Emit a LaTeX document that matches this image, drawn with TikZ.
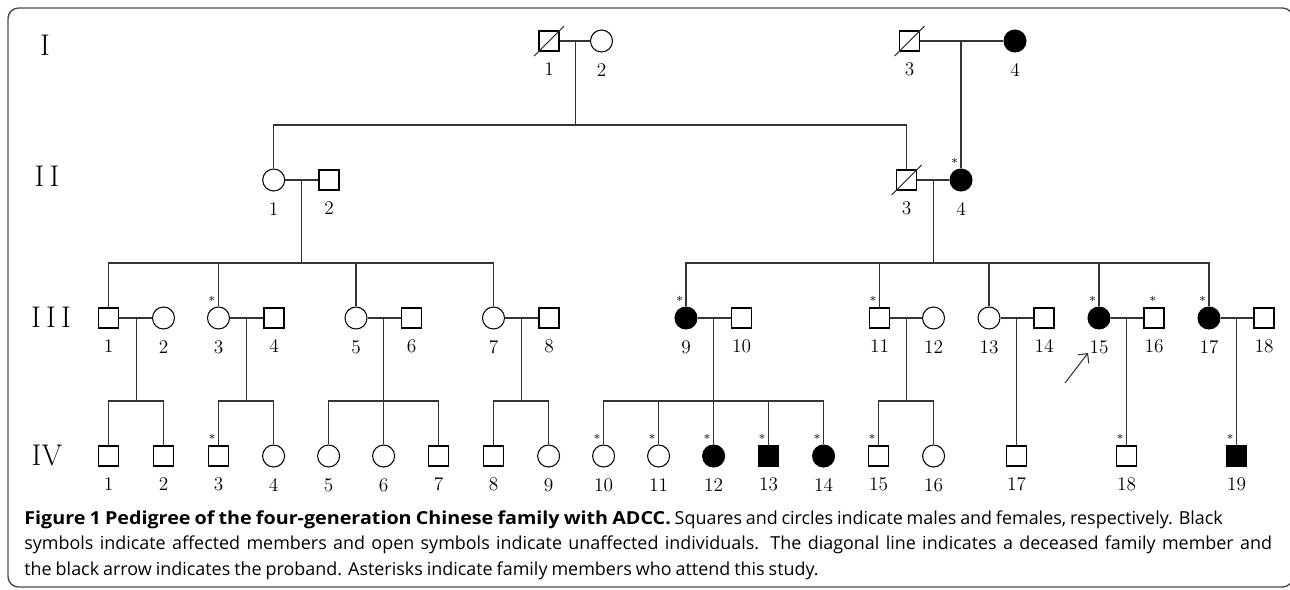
\documentclass[tikz,border=0pt]{standalone}
\usepackage{fontspec}
\newfontfamily\capfont{Open Sans}[BoldFeatures={FakeStretch=1.1}]
\usepackage{tikz}
\usetikzlibrary{calc}
\usetikzlibrary{arrows.meta}
\tikzstyle{male} = [draw, rectangle, minimum size=4mm, inner sep=0, line width=0.6pt]
\tikzstyle{female} = [draw, circle, minimum size=4.4mm, inner sep=0, line width=0.6pt]
\tikzstyle{affected} = [fill=black]
\tikzstyle{num} = [font=\fontsize{11}{11}\selectfont, inner sep=0, label distance=2.1mm]
\tikzstyle{asterisk} = [font=\fontsize{7}{7}\selectfont, inner sep=0, xshift=-3.7pt, yshift=10pt]
\tikzstyle{attend} = [label={[asterisk]center:*}]
\tikzstyle{gen} = [font=\fontsize{17}{17}\selectfont, inner sep=0]
\tikzstyle{link} = [line width=0.6pt, black!80]

\begin{document}
\begin{tikzpicture}[x=0.2mm, y=-0.2mm]
    \clip (0,0) rectangle (1290,589);
    \useasboundingbox (0,0) rectangle (1290,589);
    \draw[rounded corners=6pt, line width=0.8pt, black!70] (8,8) rectangle (1293,587);

    \node[gen] (gen_I) at (45,45) {I};
    \node[gen] (gen_II) at (47,176) {I\kern3pt I};
    \node[gen] (gen_III) at (51,317) {I\kern3pt I\kern3pt I};
    \node[gen] (gen_IV) at (47,456) {IV};

    \coordinate (sib_II) at (0,125);
    \coordinate (sib_III) at (0,263);
    \coordinate (sib_IV) at (0,401);

    \node[male, label={[num]below:1}] (I_1) at (549,41) {};
    \node[female, label={[num]below:2}] (I_2) at (601.5,41) {};
    \node[male, label={[num]below:3}] (I_3) at (909.5,41) {};
    \node[female, affected, label={[num]below:4}] (I_4) at (1015,41) {};

    \node[female, label={[num]below:1}] (II_1) at (273.7,180) {};
    \node[male, label={[num]below:2}] (II_2) at (329,180) {};
    \node[male, label={[num]below:3}] (II_3) at (906.7,180) {};
    \node[female, affected, attend, label={[num]below:4}] (II_4) at (961,180) {};

    \node[male, label={[num]below:1}] (III_1) at (108.6,318) {};
    \node[female, label={[num]below:2}] (III_2) at (163.5,318) {};
    \node[female, attend, label={[num]below:3}] (III_3) at (218.5,318) {};
    \node[male, label={[num]below:4}] (III_4) at (274,318) {};
    \node[female, label={[num]below:5}] (III_5) at (356,318) {};
    \node[male, label={[num]below:6}] (III_6) at (411.5,318) {};
    \node[female, label={[num]below:7}] (III_7) at (493.5,318) {};
    \node[male, label={[num]below:8}] (III_8) at (549,318) {};
    \node[female, affected, attend, label={[num]below:9}] (III_9) at (686,318) {};
    \node[male, label={[num]below:10}] (III_10) at (741.5,318) {};
    \node[male, attend, label={[num]below:11}] (III_11) at (879.5,318) {};
    \node[female, label={[num]below:12}] (III_12) at (933.5,318) {};
    \node[female, label={[num]below:13}] (III_13) at (989,318) {};
    \node[male, label={[num]below:14}] (III_14) at (1044,318) {};
    \node[female, affected, attend, label={[num]below:15}] (III_15) at (1099,318) {};
    \node[male, label={[asterisk, xshift=3pt]center:*}, label={[num]below:16}] (III_16) at (1154,318) {};
    \node[female, affected, attend, label={[num]below:17}] (III_17) at (1209,318) {};
    \node[male, label={[num]below:18}] (III_18) at (1264,318) {};

    \node[male, label={[num]below:1}] (IV_1) at (108.6,456) {};
    \node[male, label={[num]below:2}] (IV_2) at (163.6,456) {};
    \node[male, attend, label={[num]below:3}] (IV_3) at (218.6,456) {};
    \node[female, label={[num]below:4}] (IV_4) at (273.6,456) {};
    \node[female, label={[num]below:5}] (IV_5) at (328.6,456) {};
    \node[female, label={[num]below:6}] (IV_6) at (383.6,456) {};
    \node[male, label={[num]below:7}] (IV_7) at (438.6,456) {};
    \node[male, label={[num]below:8}] (IV_8) at (493.6,456) {};
    \node[female, label={[num]below:9}] (IV_9) at (548.6,456) {};
    \node[female, attend, label={[num]below:10}] (IV_10) at (603.6,456) {};
    \node[female, attend, label={[num]below:11}] (IV_11) at (658.6,456) {};
    \node[female, affected, attend, label={[num]below:12}] (IV_12) at (713.6,456) {};
    \node[male, affected, attend, label={[num]below:13}] (IV_13) at (768.6,456) {};
    \node[female, affected, attend, label={[num]below:14}] (IV_14) at (823.6,456) {};
    \node[male, attend, label={[num]below:15}] (IV_15) at (878.6,456) {};
    \node[female, label={[num]below:16}] (IV_16) at (933.6,456) {};
    \node[male, label={[num]below:17}] (IV_17) at (1016.5,456) {};
    \node[male, attend, label={[num]below:18}] (IV_18) at (1126.5,456) {};
    \node[male, affected, attend, label={[num]below:19}] (IV_19) at (1236.5,456) {};

    \draw[link] ($(I_1)+(-15,15)$) -- ($(I_1)+(15,-15)$);
    \draw[link] ($(I_3)+(-15,15)$) -- ($(I_3)+(15,-15)$);
    \draw[link] ($(II_3)+(-15,15)$) -- ($(II_3)+(15,-15)$);

    \draw[link] (I_1) -- (I_2);
    \coordinate (I_12) at ($(I_1)!0.5!(I_2)$);
    \draw[link] (I_12) -- (I_12 |- sib_II);
    \draw[link] (II_1.north) |- (II_3 |- sib_II) -- (II_3.north);
    \draw[link] (I_3) -- (I_4);
    \draw[link] (II_4.north) -- (II_4 |- I_3);

    \draw[link] (II_1) -- (II_2);
    \coordinate (II_12) at ($(II_1)!0.5!(II_2)$);
    \draw[link] (II_12) -- (II_12 |- sib_III);
    \draw[link] (III_1.north) |- (III_7 |- sib_III) -- (III_7.north);
    \draw[link] (III_3.north) -- (III_3 |- sib_III);
    \draw[link] (III_5.north) -- (III_5 |- sib_III);

    \draw[link] (II_3) -- (II_4);
    \coordinate (II_34) at ($(II_3)!0.5!(II_4)$);
    \draw[link] (II_34) -- (II_34 |- sib_III);
    \draw[link] (III_9.north) |- (III_17 |- sib_III) -- (III_17.north);
    \draw[link] (III_11.north) -- (III_11 |- sib_III);
    \draw[link] (III_13.north) -- (III_13 |- sib_III);
    \draw[link] (III_15.north) -- (III_15 |- sib_III);

    \draw[link] (III_1) -- (III_2);
    \coordinate (III_12c) at ($(III_1)!0.5!(III_2)$);
    \draw[link] (III_12c) -- (III_12c |- sib_IV);
    \draw[link] (IV_1.north) |- (IV_2 |- sib_IV) -- (IV_2.north);

    \draw[link] (III_3) -- (III_4);
    \coordinate (III_34) at ($(III_3)!0.5!(III_4)$);
    \draw[link] (III_34) -- (III_34 |- sib_IV);
    \draw[link] (IV_3.north) |- (IV_4 |- sib_IV) -- (IV_4.north);

    \draw[link] (III_5) -- (III_6);
    \draw[link] (IV_6.north) -- (IV_6 |- III_5);
    \draw[link] (IV_5.north) |- (IV_7 |- sib_IV) -- (IV_7.north);

    \draw[link] (III_7) -- (III_8);
    \coordinate (III_78) at ($(III_7)!0.5!(III_8)$);
    \draw[link] (III_78) -- (III_78 |- sib_IV);
    \draw[link] (IV_8.north) |- (IV_9 |- sib_IV) -- (IV_9.north);

    \draw[link] (III_9) -- (III_10);
    \draw[link] (IV_12.north) -- (IV_12 |- III_9);
    \draw[link] (IV_10.north) |- (IV_14 |- sib_IV) -- (IV_14.north);
    \draw[link] (IV_11.north) -- (IV_11 |- sib_IV);
    \draw[link] (IV_13.north) -- (IV_13 |- sib_IV);

    \draw[link] (III_11) -- (III_12);
    \coordinate (III_1112) at ($(III_11)!0.5!(III_12)$);
    \draw[link] (III_1112) -- (III_1112 |- sib_IV);
    \draw[link] (IV_15.north) |- (IV_16 |- sib_IV) -- (IV_16.north);

    \draw[link] (III_13) -- (III_14);
    \draw[link] (IV_17.north) -- (IV_17 |- III_13);
    \draw[link] (III_15) -- (III_16);
    \draw[link] (IV_18.north) -- (IV_18 |- III_15);
    \draw[link] (III_17) -- (III_18);
    \draw[link] (IV_19.north) -- (IV_19 |- III_17);

    \coordinate (proband_tail) at ($(III_15)+(-34,65)$);
    \coordinate (proband_tip) at ($(III_15)+(-11,35)$);
    \draw[link, -{Straight Barb[length=4pt]}] (proband_tail) -- (proband_tip);

    \node[anchor=north west, align=left, inner sep=0, font=\capfont\fontsize{10.2}{14.5}\selectfont] (caption) at (24,510)
        {\makebox[682pt][s]{\textbf{Figure 1 Pedigree of the four-generation Chinese family with ADCC.} Squares and circles indicate males and females, respectively. Black}\\
        \makebox[710pt][s]{symbols indicate affected members and open symbols indicate unaffected individuals. The diagonal line indicates a deceased family member and}\\
        \makebox[452pt][s]{the black arrow indicates the proband. Asterisks indicate family members who attend this study.}};
\end{tikzpicture}
\end{document}
